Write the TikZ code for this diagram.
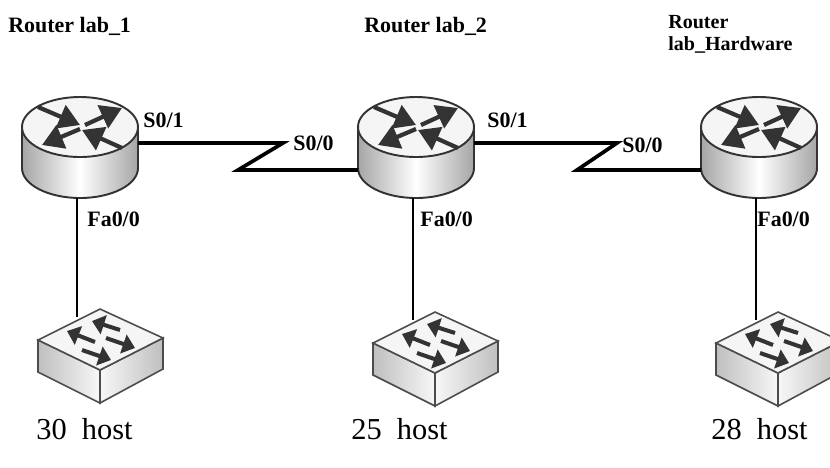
\documentclass[tikz,border=0pt]{standalone}
\usepackage{fontspec}
\setmainfont{Liberation Serif}
\usetikzlibrary{arrows.meta}

\tikzset{
	linkwire/.style={line width=1.3pt},
	serialwire/.style={line width=2.1pt, line join=miter},
	portlabel/.style={anchor=west, inner sep=0pt, font=\fontsize{12.5}{14}\selectfont\bfseries},
	hwlabel/.style={anchor=west, inner sep=0pt, font=\fontsize{11.4}{14}\selectfont\bfseries},
	hostlabel/.style={anchor=west, inner sep=0pt, font=\fontsize{17.3}{18}\selectfont},
	routerarrow/.style={line width=2.4pt, color=black!80, -{Triangle[length=12pt, width=14pt]}},
	switcharrow/.style={line width=2.3pt, color=black!80, -{Triangle[length=7pt, width=11pt]}},
	routerlab/.pic={
		% body
		\draw [line width=1.1pt, draw=black!80, left color=black!35, right color=black!35, middle color=white]
			(-58, 0) -- (-58, 41) arc [start angle=180, end angle=0, x radius=58, y radius=30] -- (58, 0) -- cycle;
		\draw [line width=1.1pt, draw=black!80, fill=black!4] (0, 0) ellipse [x radius=58, y radius=30];
		% arrows
		\draw [routerarrow] (-42, -20) -- (0, -2);
		\draw [routerarrow] (5, -2) -- (42, -19);
		\draw [routerarrow] (0, 2) -- (-38, 18);
		\draw [routerarrow] (42, 21) -- (2, 3);
		% ports
		\coordinate (-east) at (58, 16);
		\coordinate (-west) at (-58, 43);
		\coordinate (-south) at (-3, 71);
	},
	switchlab/.pic={
		% body
		\draw [line width=0.9pt, draw=black!70, left color=black!25, right color=black!3]
			(-62, 31) -- (0, 61) -- (0, 94) -- (-62, 63) -- cycle;
		\draw [line width=0.9pt, draw=black!70, left color=black!3, right color=black!25]
			(0, 61) -- (63, 29) -- (63, 60) -- (0, 94) -- cycle;
		\draw [line width=0.9pt, draw=black!70, fill=black!4] (0, 0) -- (-62, 31) -- (0, 61) -- (63, 29) -- cycle;
		% arrows
		\draw [switcharrow] (20, 21) -- (-8, 12);
		\draw [switcharrow] (-5, 33) -- (-33, 22);
		\draw [switcharrow] (6, 29) -- (35, 39);
		\draw [switcharrow] (-18, 41) -- (11, 51);
		% port
		\coordinate (-north) at (-23, 8);
	},
}

\begin{document}
\begin{tikzpicture}[x=0.02cm, y=-0.02cm]
	\useasboundingbox (0, 0) rectangle (830, 467);

	% routers
	\pic (labone) at (80, 127) {routerlab};
	\pic (labtwo) at (416, 127) {routerlab};
	\pic (labhw) at (759, 127) {routerlab};

	% switches
	\pic (swone) at (100, 309) {switchlab};
	\pic (swtwo) at (435, 312) {switchlab};
	\pic (swhw) at (778, 312) {switchlab};

	% links
	\draw [linkwire] (labone-south) -- (labone-south |- swone-north);
	\draw [linkwire] (labtwo-south) -- (labtwo-south |- swtwo-north);
	\draw [linkwire] (labhw-south) -- (labhw-south |- swhw-north);

	% serial lines
	\coordinate (bendonea) at (283, 143);
	\coordinate (bendoneb) at (238, 170);
	\coordinate (bendtwoa) at (617, 143);
	\coordinate (bendtwob) at (577, 170);
	\draw [serialwire] (labone-east) -- (bendonea) -- (bendoneb) -- (labtwo-west);
	\draw [serialwire] (labtwo-east) -- (bendtwoa) -- (bendtwob) -- (labhw-west);

	% labels
	\node [portlabel] (nameone) at (8, 26) {Router lab\_1};
	\node [portlabel] (nametwo) at (364, 26) {Router lab\_2};
	\node [hwlabel] (namehwa) at (668, 22) {Router};
	\node [hwlabel] (namehwb) at (668, 45) {lab\_Hardware};

	\node [portlabel] (soneone) at (143, 120) {S0/1};
	\node [portlabel] (szeroone) at (293, 143) {S0/0};
	\node [portlabel] (fazone) at (87, 219) {Fa0/0};
	\node [portlabel] (sonetwo) at (487, 120) {S0/1};
	\node [portlabel] (szerotwo) at (622, 145) {S0/0};
	\node [portlabel] (faztwo) at (420, 219) {Fa0/0};
	\node [portlabel] (fazhw) at (757, 219) {Fa0/0};

	\node [hostlabel] (hostone) at (36, 429) {30\ \ host};
	\node [hostlabel] (hosttwo) at (351, 429) {25\ \ host};
	\node [hostlabel] (hosthw) at (711, 429) {28\ \ host};
\end{tikzpicture}
\end{document}
